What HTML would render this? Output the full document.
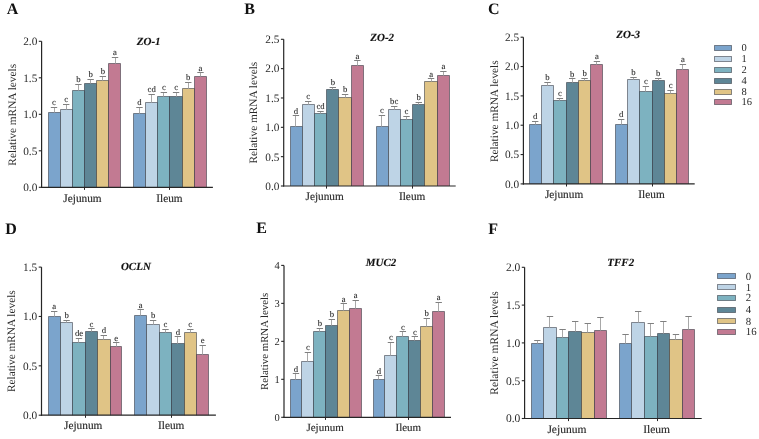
<!DOCTYPE html>
<html><head><meta charset="utf-8"><title>Relative mRNA levels</title>
<style>
html,body{margin:0;padding:0;background:#fff;}
body{width:759px;height:439px;overflow:hidden;}
svg{display:block;} svg text.t{stroke:#2a2a2a;stroke-width:0.15px;} svg text.t2{stroke:#333;stroke-width:0.1px;} svg{font-family:"Liberation Serif", serif;text-rendering:geometricPrecision;will-change:transform;}
</style></head><body>
<svg width="759" height="439" viewBox="0 0 759 439">
<rect x="0" y="0" width="759" height="439" fill="#fff"/>
<text x="6.7" y="13.5" font-size="16" font-weight="bold" fill="#111">A</text>
<text x="136.8" y="44.8" font-size="11" font-weight="bold" font-style="italic" fill="#111" class="t">ZO-1</text>
<rect x="48.5" y="112.5" width="12" height="74.8" fill="#7ba4cc"/>
<path d="M48.5 187.3V112.5H60.5V187.3" fill="none" stroke="#262a33" stroke-opacity="0.52" stroke-width="1.0"/>
<line x1="54.5" y1="107.5" x2="54.5" y2="112.5" stroke="#a8a8a8" stroke-width="1"/>
<line x1="50.8" y1="107.5" x2="57.2" y2="107.5" stroke="#808080" stroke-width="1"/>
<text x="54" y="105" font-size="8.7" text-anchor="middle" fill="#222" class="t2">c</text>
<rect x="60.5" y="109.5" width="12" height="77.8" fill="#bed4e6"/>
<path d="M60.5 187.3V109.5H72.5V187.3" fill="none" stroke="#262a33" stroke-opacity="0.52" stroke-width="1.0"/>
<line x1="66.5" y1="104.5" x2="66.5" y2="109.5" stroke="#a8a8a8" stroke-width="1"/>
<line x1="63.01" y1="104.5" x2="69.41" y2="104.5" stroke="#808080" stroke-width="1"/>
<text x="66.21" y="102.2" font-size="8.7" text-anchor="middle" fill="#222" class="t2">c</text>
<rect x="72.5" y="90.5" width="12" height="96.8" fill="#7db2c0"/>
<path d="M72.5 187.3V90.5H84.5V187.3" fill="none" stroke="#262a33" stroke-opacity="0.52" stroke-width="1.0"/>
<line x1="78.5" y1="84.5" x2="78.5" y2="90.5" stroke="#a8a8a8" stroke-width="1"/>
<line x1="75.22" y1="84.5" x2="81.62" y2="84.5" stroke="#808080" stroke-width="1"/>
<text x="78.42" y="82.2" font-size="8.7" text-anchor="middle" fill="#222" class="t2">b</text>
<rect x="84.5" y="83.5" width="12" height="103.8" fill="#5e8696"/>
<path d="M84.5 187.3V83.5H96.5V187.3" fill="none" stroke="#262a33" stroke-opacity="0.52" stroke-width="1.0"/>
<line x1="90.5" y1="79.5" x2="90.5" y2="83.5" stroke="#a8a8a8" stroke-width="1"/>
<line x1="87.43" y1="79.5" x2="93.83" y2="79.5" stroke="#808080" stroke-width="1"/>
<text x="90.63" y="77.4" font-size="8.7" text-anchor="middle" fill="#222" class="t2">b</text>
<rect x="96.5" y="80.5" width="12" height="106.8" fill="#e0c486"/>
<path d="M96.5 187.3V80.5H108.5V187.3" fill="none" stroke="#262a33" stroke-opacity="0.52" stroke-width="1.0"/>
<line x1="102.5" y1="76.5" x2="102.5" y2="80.5" stroke="#a8a8a8" stroke-width="1"/>
<line x1="99.63" y1="76.5" x2="106.03" y2="76.5" stroke="#808080" stroke-width="1"/>
<text x="102.83" y="74.4" font-size="8.7" text-anchor="middle" fill="#222" class="t2">b</text>
<rect x="108.5" y="63.5" width="12" height="123.8" fill="#c27a92"/>
<path d="M108.5 187.3V63.5H120.5V187.3" fill="none" stroke="#262a33" stroke-opacity="0.52" stroke-width="1.0"/>
<line x1="115.5" y1="57.5" x2="115.5" y2="63.5" stroke="#a8a8a8" stroke-width="1"/>
<line x1="111.84" y1="57.5" x2="118.24" y2="57.5" stroke="#808080" stroke-width="1"/>
<text x="115.04" y="55.2" font-size="8.7" text-anchor="middle" fill="#222" class="t2">a</text>
<line x1="84.5" y1="187.3" x2="84.5" y2="189.9" stroke="#262626" stroke-width="1"/>
<text x="82.52" y="201.5" font-size="11.3" text-anchor="middle" fill="#2a2a2a" class="t">Jejunum</text>
<rect x="133.5" y="113.5" width="12" height="73.8" fill="#7ba4cc"/>
<path d="M133.5 187.3V113.5H145.5V187.3" fill="none" stroke="#262a33" stroke-opacity="0.52" stroke-width="1.0"/>
<line x1="139.5" y1="107.5" x2="139.5" y2="113.5" stroke="#a8a8a8" stroke-width="1"/>
<line x1="136.26" y1="107.5" x2="142.66" y2="107.5" stroke="#808080" stroke-width="1"/>
<text x="139.46" y="105.4" font-size="8.7" text-anchor="middle" fill="#222" class="t2">d</text>
<rect x="145.5" y="102.5" width="12" height="84.8" fill="#bed4e6"/>
<path d="M145.5 187.3V102.5H157.5V187.3" fill="none" stroke="#262a33" stroke-opacity="0.52" stroke-width="1.0"/>
<line x1="151.5" y1="94.5" x2="151.5" y2="102.5" stroke="#a8a8a8" stroke-width="1"/>
<line x1="148.47" y1="94.5" x2="154.87" y2="94.5" stroke="#808080" stroke-width="1"/>
<text x="151.67" y="92" font-size="8.7" text-anchor="middle" fill="#222" class="t2">cd</text>
<rect x="157.5" y="96.5" width="12" height="90.8" fill="#7db2c0"/>
<path d="M157.5 187.3V96.5H169.5V187.3" fill="none" stroke="#262a33" stroke-opacity="0.52" stroke-width="1.0"/>
<line x1="163.5" y1="92.5" x2="163.5" y2="96.5" stroke="#a8a8a8" stroke-width="1"/>
<line x1="160.67" y1="92.5" x2="167.07" y2="92.5" stroke="#808080" stroke-width="1"/>
<text x="163.87" y="90" font-size="8.7" text-anchor="middle" fill="#222" class="t2">c</text>
<rect x="169.5" y="96.5" width="13" height="90.8" fill="#5e8696"/>
<path d="M169.5 187.3V96.5H182.5V187.3" fill="none" stroke="#262a33" stroke-opacity="0.52" stroke-width="1.0"/>
<line x1="176.5" y1="92.5" x2="176.5" y2="96.5" stroke="#a8a8a8" stroke-width="1"/>
<line x1="172.88" y1="92.5" x2="179.28" y2="92.5" stroke="#808080" stroke-width="1"/>
<text x="176.08" y="90" font-size="8.7" text-anchor="middle" fill="#222" class="t2">c</text>
<rect x="182.5" y="88.5" width="12" height="98.8" fill="#e0c486"/>
<path d="M182.5 187.3V88.5H194.5V187.3" fill="none" stroke="#262a33" stroke-opacity="0.52" stroke-width="1.0"/>
<line x1="188.5" y1="82.5" x2="188.5" y2="88.5" stroke="#a8a8a8" stroke-width="1"/>
<line x1="185.09" y1="82.5" x2="191.49" y2="82.5" stroke="#808080" stroke-width="1"/>
<text x="188.29" y="80.2" font-size="8.7" text-anchor="middle" fill="#222" class="t2">b</text>
<rect x="194.5" y="76.5" width="12" height="110.8" fill="#c27a92"/>
<path d="M194.5 187.3V76.5H206.5V187.3" fill="none" stroke="#262a33" stroke-opacity="0.52" stroke-width="1.0"/>
<line x1="200.5" y1="72.5" x2="200.5" y2="76.5" stroke="#a8a8a8" stroke-width="1"/>
<line x1="197.3" y1="72.5" x2="203.7" y2="72.5" stroke="#808080" stroke-width="1"/>
<text x="200.5" y="70.5" font-size="8.7" text-anchor="middle" fill="#222" class="t2">a</text>
<line x1="169.5" y1="187.3" x2="169.5" y2="189.9" stroke="#262626" stroke-width="1"/>
<text x="169.48" y="201.5" font-size="11.3" text-anchor="middle" fill="#2a2a2a" class="t">Ileum</text>
<line x1="41.6" y1="41.3" x2="41.6" y2="187.9" stroke="#262626" stroke-width="1.2"/>
<line x1="41" y1="187.3" x2="212.9" y2="187.3" stroke="#262626" stroke-width="1.2"/>
<line x1="38.8" y1="187.3" x2="41.6" y2="187.3" stroke="#262626" stroke-width="1.1"/>
<text x="37.3" y="191.14" font-size="11.3" text-anchor="end" fill="#2a2a2a">0.0</text>
<line x1="38.8" y1="150.8" x2="41.6" y2="150.8" stroke="#262626" stroke-width="1.1"/>
<text x="37.3" y="154.64" font-size="11.3" text-anchor="end" fill="#2a2a2a">0.5</text>
<line x1="38.8" y1="114.3" x2="41.6" y2="114.3" stroke="#262626" stroke-width="1.1"/>
<text x="37.3" y="118.14" font-size="11.3" text-anchor="end" fill="#2a2a2a">1.0</text>
<line x1="38.8" y1="77.8" x2="41.6" y2="77.8" stroke="#262626" stroke-width="1.1"/>
<text x="37.3" y="81.64" font-size="11.3" text-anchor="end" fill="#2a2a2a">1.5</text>
<line x1="38.8" y1="41.3" x2="41.6" y2="41.3" stroke="#262626" stroke-width="1.1"/>
<text x="37.3" y="45.14" font-size="11.3" text-anchor="end" fill="#2a2a2a">2.0</text>
<text transform="translate(15.7 114.8) rotate(-90)" font-size="11.3" text-anchor="middle" fill="#2a2a2a">Relative mRNA levels</text>
<text x="244.3" y="13.5" font-size="16" font-weight="bold" fill="#111">B</text>
<text x="370.3" y="41.4" font-size="11" font-weight="bold" font-style="italic" fill="#111" class="t">ZO-2</text>
<rect x="290.5" y="126.5" width="12" height="59.5" fill="#7ba4cc"/>
<path d="M290.5 186V126.5H302.5V186" fill="none" stroke="#262a33" stroke-opacity="0.52" stroke-width="1.0"/>
<line x1="295.5" y1="115.5" x2="295.5" y2="126.5" stroke="#a8a8a8" stroke-width="1"/>
<line x1="292.74" y1="115.5" x2="299.14" y2="115.5" stroke="#808080" stroke-width="1"/>
<text x="295.94" y="113.7" font-size="8.7" text-anchor="middle" fill="#222" class="t2">d</text>
<rect x="302.5" y="104.5" width="12" height="81.5" fill="#bed4e6"/>
<path d="M302.5 186V104.5H314.5V186" fill="none" stroke="#262a33" stroke-opacity="0.52" stroke-width="1.0"/>
<line x1="308.5" y1="101.5" x2="308.5" y2="104.5" stroke="#a8a8a8" stroke-width="1"/>
<line x1="305.03" y1="101.5" x2="311.43" y2="101.5" stroke="#808080" stroke-width="1"/>
<text x="308.23" y="99" font-size="8.7" text-anchor="middle" fill="#222" class="t2">c</text>
<rect x="314.5" y="113.5" width="12" height="72.5" fill="#7db2c0"/>
<path d="M314.5 186V113.5H326.5V186" fill="none" stroke="#262a33" stroke-opacity="0.52" stroke-width="1.0"/>
<line x1="320.5" y1="111.5" x2="320.5" y2="113.5" stroke="#a8a8a8" stroke-width="1"/>
<line x1="317.31" y1="111.5" x2="323.71" y2="111.5" stroke="#808080" stroke-width="1"/>
<text x="320.51" y="109.2" font-size="8.7" text-anchor="middle" fill="#222" class="t2">cd</text>
<rect x="326.5" y="89.5" width="12" height="96.5" fill="#5e8696"/>
<path d="M326.5 186V89.5H338.5V186" fill="none" stroke="#262a33" stroke-opacity="0.52" stroke-width="1.0"/>
<line x1="332.5" y1="87.5" x2="332.5" y2="89.5" stroke="#a8a8a8" stroke-width="1"/>
<line x1="329.6" y1="87.5" x2="336" y2="87.5" stroke="#808080" stroke-width="1"/>
<text x="332.8" y="85" font-size="8.7" text-anchor="middle" fill="#222" class="t2">b</text>
<rect x="338.5" y="97.5" width="13" height="88.5" fill="#e0c486"/>
<path d="M338.5 186V97.5H351.5V186" fill="none" stroke="#262a33" stroke-opacity="0.52" stroke-width="1.0"/>
<line x1="345.5" y1="94.5" x2="345.5" y2="97.5" stroke="#a8a8a8" stroke-width="1"/>
<line x1="341.88" y1="94.5" x2="348.28" y2="94.5" stroke="#808080" stroke-width="1"/>
<text x="345.08" y="92" font-size="8.7" text-anchor="middle" fill="#222" class="t2">b</text>
<rect x="351.5" y="65.5" width="12" height="120.5" fill="#c27a92"/>
<path d="M351.5 186V65.5H363.5V186" fill="none" stroke="#262a33" stroke-opacity="0.52" stroke-width="1.0"/>
<line x1="357.5" y1="60.5" x2="357.5" y2="65.5" stroke="#a8a8a8" stroke-width="1"/>
<line x1="354.17" y1="60.5" x2="360.57" y2="60.5" stroke="#808080" stroke-width="1"/>
<text x="357.37" y="58.8" font-size="8.7" text-anchor="middle" fill="#222" class="t2">a</text>
<line x1="326.5" y1="186" x2="326.5" y2="188.6" stroke="#262626" stroke-width="1"/>
<text x="324.65" y="200.2" font-size="11.3" text-anchor="middle" fill="#2a2a2a" class="t">Jejunum</text>
<rect x="376.5" y="126.5" width="12" height="59.5" fill="#7ba4cc"/>
<path d="M376.5 186V126.5H388.5V186" fill="none" stroke="#262a33" stroke-opacity="0.52" stroke-width="1.0"/>
<line x1="381.5" y1="115.5" x2="381.5" y2="126.5" stroke="#a8a8a8" stroke-width="1"/>
<line x1="378.73" y1="115.5" x2="385.13" y2="115.5" stroke="#808080" stroke-width="1"/>
<text x="381.93" y="113.3" font-size="8.7" text-anchor="middle" fill="#222" class="t2">c</text>
<rect x="388.5" y="109.5" width="12" height="76.5" fill="#bed4e6"/>
<path d="M388.5 186V109.5H400.5V186" fill="none" stroke="#262a33" stroke-opacity="0.52" stroke-width="1.0"/>
<line x1="394.5" y1="106.5" x2="394.5" y2="109.5" stroke="#a8a8a8" stroke-width="1"/>
<line x1="391.02" y1="106.5" x2="397.42" y2="106.5" stroke="#808080" stroke-width="1"/>
<text x="394.22" y="104.2" font-size="8.7" text-anchor="middle" fill="#222" class="t2">bc</text>
<rect x="400.5" y="119.5" width="12" height="66.5" fill="#7db2c0"/>
<path d="M400.5 186V119.5H412.5V186" fill="none" stroke="#262a33" stroke-opacity="0.52" stroke-width="1.0"/>
<line x1="406.5" y1="116.5" x2="406.5" y2="119.5" stroke="#a8a8a8" stroke-width="1"/>
<line x1="403.3" y1="116.5" x2="409.7" y2="116.5" stroke="#808080" stroke-width="1"/>
<text x="406.5" y="114" font-size="8.7" text-anchor="middle" fill="#222" class="t2">c</text>
<rect x="412.5" y="104.5" width="12" height="81.5" fill="#5e8696"/>
<path d="M412.5 186V104.5H424.5V186" fill="none" stroke="#262a33" stroke-opacity="0.52" stroke-width="1.0"/>
<line x1="418.5" y1="102.5" x2="418.5" y2="104.5" stroke="#a8a8a8" stroke-width="1"/>
<line x1="415.59" y1="102.5" x2="421.99" y2="102.5" stroke="#808080" stroke-width="1"/>
<text x="418.79" y="99.9" font-size="8.7" text-anchor="middle" fill="#222" class="t2">b</text>
<rect x="424.5" y="81.5" width="13" height="104.5" fill="#e0c486"/>
<path d="M424.5 186V81.5H437.5V186" fill="none" stroke="#262a33" stroke-opacity="0.52" stroke-width="1.0"/>
<line x1="431.5" y1="78.5" x2="431.5" y2="81.5" stroke="#a8a8a8" stroke-width="1"/>
<line x1="427.87" y1="78.5" x2="434.27" y2="78.5" stroke="#808080" stroke-width="1"/>
<text x="431.07" y="76.9" font-size="8.7" text-anchor="middle" fill="#222" class="t2">a</text>
<rect x="437.5" y="75.5" width="12" height="110.5" fill="#c27a92"/>
<path d="M437.5 186V75.5H449.5V186" fill="none" stroke="#262a33" stroke-opacity="0.52" stroke-width="1.0"/>
<line x1="443.5" y1="71.5" x2="443.5" y2="75.5" stroke="#a8a8a8" stroke-width="1"/>
<line x1="440.16" y1="71.5" x2="446.56" y2="71.5" stroke="#808080" stroke-width="1"/>
<text x="443.36" y="69.4" font-size="8.7" text-anchor="middle" fill="#222" class="t2">a</text>
<line x1="412.5" y1="186" x2="412.5" y2="188.6" stroke="#262626" stroke-width="1"/>
<text x="412.15" y="200.2" font-size="11.3" text-anchor="middle" fill="#2a2a2a" class="t">Ileum</text>
<line x1="283.7" y1="39.3" x2="283.7" y2="186.6" stroke="#262626" stroke-width="1.2"/>
<line x1="283.1" y1="186" x2="455.7" y2="186" stroke="#262626" stroke-width="1.2"/>
<line x1="280.9" y1="186" x2="283.7" y2="186" stroke="#262626" stroke-width="1.1"/>
<text x="279.4" y="189.84" font-size="11.3" text-anchor="end" fill="#2a2a2a">0.0</text>
<line x1="280.9" y1="156.66" x2="283.7" y2="156.66" stroke="#262626" stroke-width="1.1"/>
<text x="279.4" y="160.5" font-size="11.3" text-anchor="end" fill="#2a2a2a">0.5</text>
<line x1="280.9" y1="127.32" x2="283.7" y2="127.32" stroke="#262626" stroke-width="1.1"/>
<text x="279.4" y="131.16" font-size="11.3" text-anchor="end" fill="#2a2a2a">1.0</text>
<line x1="280.9" y1="97.98" x2="283.7" y2="97.98" stroke="#262626" stroke-width="1.1"/>
<text x="279.4" y="101.82" font-size="11.3" text-anchor="end" fill="#2a2a2a">1.5</text>
<line x1="280.9" y1="68.64" x2="283.7" y2="68.64" stroke="#262626" stroke-width="1.1"/>
<text x="279.4" y="72.48" font-size="11.3" text-anchor="end" fill="#2a2a2a">2.0</text>
<line x1="280.9" y1="39.3" x2="283.7" y2="39.3" stroke="#262626" stroke-width="1.1"/>
<text x="279.4" y="43.14" font-size="11.3" text-anchor="end" fill="#2a2a2a">2.5</text>
<text transform="translate(257.3 112.65) rotate(-90)" font-size="11.3" text-anchor="middle" fill="#2a2a2a">Relative mRNA levels</text>
<text x="488" y="13.5" font-size="16" font-weight="bold" fill="#111">C</text>
<text x="616.3" y="38.4" font-size="11" font-weight="bold" font-style="italic" fill="#111" class="t">ZO-3</text>
<rect x="529.5" y="124.5" width="12" height="59.4" fill="#7ba4cc"/>
<path d="M529.5 183.9V124.5H541.5V183.9" fill="none" stroke="#262a33" stroke-opacity="0.52" stroke-width="1.0"/>
<line x1="535.5" y1="121.5" x2="535.5" y2="124.5" stroke="#a8a8a8" stroke-width="1"/>
<line x1="531.97" y1="121.5" x2="538.38" y2="121.5" stroke="#808080" stroke-width="1"/>
<text x="535.17" y="119.1" font-size="8.7" text-anchor="middle" fill="#222" class="t2">d</text>
<rect x="541.5" y="85.5" width="12" height="98.4" fill="#bed4e6"/>
<path d="M541.5 183.9V85.5H553.5V183.9" fill="none" stroke="#262a33" stroke-opacity="0.52" stroke-width="1.0"/>
<line x1="547.5" y1="82.5" x2="547.5" y2="85.5" stroke="#a8a8a8" stroke-width="1"/>
<line x1="544.32" y1="82.5" x2="550.73" y2="82.5" stroke="#808080" stroke-width="1"/>
<text x="547.52" y="80.4" font-size="8.7" text-anchor="middle" fill="#222" class="t2">b</text>
<rect x="553.5" y="100.5" width="13" height="83.4" fill="#7db2c0"/>
<path d="M553.5 183.9V100.5H566.5V183.9" fill="none" stroke="#262a33" stroke-opacity="0.52" stroke-width="1.0"/>
<line x1="559.5" y1="98.5" x2="559.5" y2="100.5" stroke="#a8a8a8" stroke-width="1"/>
<line x1="556.67" y1="98.5" x2="563.08" y2="98.5" stroke="#808080" stroke-width="1"/>
<text x="559.88" y="96.3" font-size="8.7" text-anchor="middle" fill="#222" class="t2">c</text>
<rect x="566.5" y="82.5" width="12" height="101.4" fill="#5e8696"/>
<path d="M566.5 183.9V82.5H578.5V183.9" fill="none" stroke="#262a33" stroke-opacity="0.52" stroke-width="1.0"/>
<line x1="572.5" y1="78.5" x2="572.5" y2="82.5" stroke="#a8a8a8" stroke-width="1"/>
<line x1="569.02" y1="78.5" x2="575.42" y2="78.5" stroke="#808080" stroke-width="1"/>
<text x="572.22" y="76.7" font-size="8.7" text-anchor="middle" fill="#222" class="t2">b</text>
<rect x="578.5" y="80.5" width="12" height="103.4" fill="#e0c486"/>
<path d="M578.5 183.9V80.5H590.5V183.9" fill="none" stroke="#262a33" stroke-opacity="0.52" stroke-width="1.0"/>
<line x1="584.5" y1="78.5" x2="584.5" y2="80.5" stroke="#a8a8a8" stroke-width="1"/>
<line x1="581.37" y1="78.5" x2="587.77" y2="78.5" stroke="#808080" stroke-width="1"/>
<text x="584.57" y="76.2" font-size="8.7" text-anchor="middle" fill="#222" class="t2">b</text>
<rect x="590.5" y="64.5" width="12" height="119.4" fill="#c27a92"/>
<path d="M590.5 183.9V64.5H602.5V183.9" fill="none" stroke="#262a33" stroke-opacity="0.52" stroke-width="1.0"/>
<line x1="596.5" y1="61.5" x2="596.5" y2="64.5" stroke="#a8a8a8" stroke-width="1"/>
<line x1="593.72" y1="61.5" x2="600.12" y2="61.5" stroke="#808080" stroke-width="1"/>
<text x="596.92" y="59.2" font-size="8.7" text-anchor="middle" fill="#222" class="t2">a</text>
<line x1="566.5" y1="183.9" x2="566.5" y2="186.5" stroke="#262626" stroke-width="1"/>
<text x="564.05" y="198.1" font-size="11.3" text-anchor="middle" fill="#2a2a2a" class="t">Jejunum</text>
<rect x="615.5" y="124.5" width="12" height="59.4" fill="#7ba4cc"/>
<path d="M615.5 183.9V124.5H627.5V183.9" fill="none" stroke="#262a33" stroke-opacity="0.52" stroke-width="1.0"/>
<line x1="621.5" y1="119.5" x2="621.5" y2="124.5" stroke="#a8a8a8" stroke-width="1"/>
<line x1="617.97" y1="119.5" x2="624.38" y2="119.5" stroke="#808080" stroke-width="1"/>
<text x="621.17" y="117.1" font-size="8.7" text-anchor="middle" fill="#222" class="t2">d</text>
<rect x="627.5" y="79.5" width="12" height="104.4" fill="#bed4e6"/>
<path d="M627.5 183.9V79.5H639.5V183.9" fill="none" stroke="#262a33" stroke-opacity="0.52" stroke-width="1.0"/>
<line x1="633.5" y1="77.5" x2="633.5" y2="79.5" stroke="#a8a8a8" stroke-width="1"/>
<line x1="630.32" y1="77.5" x2="636.73" y2="77.5" stroke="#808080" stroke-width="1"/>
<text x="633.52" y="75.2" font-size="8.7" text-anchor="middle" fill="#222" class="t2">b</text>
<rect x="639.5" y="91.5" width="13" height="92.4" fill="#7db2c0"/>
<path d="M639.5 183.9V91.5H652.5V183.9" fill="none" stroke="#262a33" stroke-opacity="0.52" stroke-width="1.0"/>
<line x1="645.5" y1="86.5" x2="645.5" y2="91.5" stroke="#a8a8a8" stroke-width="1"/>
<line x1="642.67" y1="86.5" x2="649.08" y2="86.5" stroke="#808080" stroke-width="1"/>
<text x="645.88" y="84.3" font-size="8.7" text-anchor="middle" fill="#222" class="t2">c</text>
<rect x="652.5" y="80.5" width="12" height="103.4" fill="#5e8696"/>
<path d="M652.5 183.9V80.5H664.5V183.9" fill="none" stroke="#262a33" stroke-opacity="0.52" stroke-width="1.0"/>
<line x1="658.5" y1="78.5" x2="658.5" y2="80.5" stroke="#a8a8a8" stroke-width="1"/>
<line x1="655.02" y1="78.5" x2="661.42" y2="78.5" stroke="#808080" stroke-width="1"/>
<text x="658.22" y="76.1" font-size="8.7" text-anchor="middle" fill="#222" class="t2">b</text>
<rect x="664.5" y="93.5" width="12" height="90.4" fill="#e0c486"/>
<path d="M664.5 183.9V93.5H676.5V183.9" fill="none" stroke="#262a33" stroke-opacity="0.52" stroke-width="1.0"/>
<line x1="670.5" y1="90.5" x2="670.5" y2="93.5" stroke="#a8a8a8" stroke-width="1"/>
<line x1="667.37" y1="90.5" x2="673.77" y2="90.5" stroke="#808080" stroke-width="1"/>
<text x="670.57" y="88.3" font-size="8.7" text-anchor="middle" fill="#222" class="t2">c</text>
<rect x="676.5" y="69.5" width="12" height="114.4" fill="#c27a92"/>
<path d="M676.5 183.9V69.5H688.5V183.9" fill="none" stroke="#262a33" stroke-opacity="0.52" stroke-width="1.0"/>
<line x1="682.5" y1="64.5" x2="682.5" y2="69.5" stroke="#a8a8a8" stroke-width="1"/>
<line x1="679.72" y1="64.5" x2="686.12" y2="64.5" stroke="#808080" stroke-width="1"/>
<text x="682.92" y="61.9" font-size="8.7" text-anchor="middle" fill="#222" class="t2">a</text>
<line x1="652.5" y1="183.9" x2="652.5" y2="186.5" stroke="#262626" stroke-width="1"/>
<text x="651.55" y="198.1" font-size="11.3" text-anchor="middle" fill="#2a2a2a" class="t">Ileum</text>
<line x1="523.4" y1="37.2" x2="523.4" y2="184.5" stroke="#262626" stroke-width="1.2"/>
<line x1="522.8" y1="183.9" x2="694.7" y2="183.9" stroke="#262626" stroke-width="1.2"/>
<line x1="520.6" y1="183.9" x2="523.4" y2="183.9" stroke="#262626" stroke-width="1.1"/>
<text x="519.1" y="187.74" font-size="11.3" text-anchor="end" fill="#2a2a2a">0.0</text>
<line x1="520.6" y1="154.56" x2="523.4" y2="154.56" stroke="#262626" stroke-width="1.1"/>
<text x="519.1" y="158.4" font-size="11.3" text-anchor="end" fill="#2a2a2a">0.5</text>
<line x1="520.6" y1="125.22" x2="523.4" y2="125.22" stroke="#262626" stroke-width="1.1"/>
<text x="519.1" y="129.06" font-size="11.3" text-anchor="end" fill="#2a2a2a">1.0</text>
<line x1="520.6" y1="95.88" x2="523.4" y2="95.88" stroke="#262626" stroke-width="1.1"/>
<text x="519.1" y="99.72" font-size="11.3" text-anchor="end" fill="#2a2a2a">1.5</text>
<line x1="520.6" y1="66.54" x2="523.4" y2="66.54" stroke="#262626" stroke-width="1.1"/>
<text x="519.1" y="70.38" font-size="11.3" text-anchor="end" fill="#2a2a2a">2.0</text>
<line x1="520.6" y1="37.2" x2="523.4" y2="37.2" stroke="#262626" stroke-width="1.1"/>
<text x="519.1" y="41.04" font-size="11.3" text-anchor="end" fill="#2a2a2a">2.5</text>
<text transform="translate(497.6 111.25) rotate(-90)" font-size="11.3" text-anchor="middle" fill="#2a2a2a">Relative mRNA levels</text>
<rect x="714.5" y="45.5" width="17" height="5" fill="#7ba4cc" stroke="#262a33" stroke-opacity="0.52" stroke-width="1"/>
<text x="741.4" y="51.2" font-size="10.5" fill="#2a2a2a">0</text>
<rect x="714.5" y="56.5" width="17" height="5" fill="#bed4e6" stroke="#262a33" stroke-opacity="0.52" stroke-width="1"/>
<text x="741.4" y="61.9" font-size="10.5" fill="#2a2a2a">1</text>
<rect x="714.5" y="67.5" width="17" height="5" fill="#7db2c0" stroke="#262a33" stroke-opacity="0.52" stroke-width="1"/>
<text x="741.4" y="72.7" font-size="10.5" fill="#2a2a2a">2</text>
<rect x="714.5" y="78.5" width="17" height="5" fill="#5e8696" stroke="#262a33" stroke-opacity="0.52" stroke-width="1"/>
<text x="741.4" y="83.7" font-size="10.5" fill="#2a2a2a">4</text>
<rect x="714.5" y="89.5" width="17" height="5" fill="#e0c486" stroke="#262a33" stroke-opacity="0.52" stroke-width="1"/>
<text x="741.4" y="95.2" font-size="10.5" fill="#2a2a2a">8</text>
<rect x="714.5" y="99.5" width="17" height="5" fill="#c27a92" stroke="#262a33" stroke-opacity="0.52" stroke-width="1"/>
<text x="741.4" y="105.2" font-size="10.5" fill="#2a2a2a">16</text>
<text x="5.2" y="233.6" font-size="16" font-weight="bold" fill="#111">D</text>
<text x="120.9" y="269.8" font-size="11" font-weight="bold" font-style="italic" fill="#111" class="t">OCLN</text>
<rect x="48.5" y="316.5" width="12" height="98.7" fill="#7ba4cc"/>
<path d="M48.5 415.2V316.5H60.5V415.2" fill="none" stroke="#262a33" stroke-opacity="0.52" stroke-width="1.0"/>
<line x1="54.5" y1="311.5" x2="54.5" y2="316.5" stroke="#a8a8a8" stroke-width="1"/>
<line x1="51" y1="311.5" x2="57.4" y2="311.5" stroke="#808080" stroke-width="1"/>
<text x="54.2" y="309.4" font-size="8.7" text-anchor="middle" fill="#222" class="t2">a</text>
<rect x="60.5" y="322.5" width="12" height="92.7" fill="#bed4e6"/>
<path d="M60.5 415.2V322.5H72.5V415.2" fill="none" stroke="#262a33" stroke-opacity="0.52" stroke-width="1.0"/>
<line x1="66.5" y1="320.5" x2="66.5" y2="322.5" stroke="#a8a8a8" stroke-width="1"/>
<line x1="63.4" y1="320.5" x2="69.8" y2="320.5" stroke="#808080" stroke-width="1"/>
<text x="66.6" y="318.3" font-size="8.7" text-anchor="middle" fill="#222" class="t2">b</text>
<rect x="72.5" y="342.5" width="13" height="72.7" fill="#7db2c0"/>
<path d="M72.5 415.2V342.5H85.5V415.2" fill="none" stroke="#262a33" stroke-opacity="0.52" stroke-width="1.0"/>
<line x1="78.5" y1="338.5" x2="78.5" y2="342.5" stroke="#a8a8a8" stroke-width="1"/>
<line x1="75.8" y1="338.5" x2="82.2" y2="338.5" stroke="#808080" stroke-width="1"/>
<text x="79" y="336.2" font-size="8.7" text-anchor="middle" fill="#222" class="t2">de</text>
<rect x="85.5" y="331.5" width="12" height="83.7" fill="#5e8696"/>
<path d="M85.5 415.2V331.5H97.5V415.2" fill="none" stroke="#262a33" stroke-opacity="0.52" stroke-width="1.0"/>
<line x1="91.5" y1="328.5" x2="91.5" y2="331.5" stroke="#a8a8a8" stroke-width="1"/>
<line x1="88.2" y1="328.5" x2="94.6" y2="328.5" stroke="#808080" stroke-width="1"/>
<text x="91.4" y="326.9" font-size="8.7" text-anchor="middle" fill="#222" class="t2">c</text>
<rect x="97.5" y="339.5" width="13" height="75.7" fill="#e0c486"/>
<path d="M97.5 415.2V339.5H110.5V415.2" fill="none" stroke="#262a33" stroke-opacity="0.52" stroke-width="1.0"/>
<line x1="103.5" y1="335.5" x2="103.5" y2="339.5" stroke="#a8a8a8" stroke-width="1"/>
<line x1="100.6" y1="335.5" x2="107" y2="335.5" stroke="#808080" stroke-width="1"/>
<text x="103.8" y="333.3" font-size="8.7" text-anchor="middle" fill="#222" class="t2">d</text>
<rect x="110.5" y="346.5" width="11" height="68.7" fill="#c27a92"/>
<path d="M110.5 415.2V346.5H121.5V415.2" fill="none" stroke="#262a33" stroke-opacity="0.52" stroke-width="1.0"/>
<line x1="116.5" y1="342.5" x2="116.5" y2="346.5" stroke="#a8a8a8" stroke-width="1"/>
<line x1="113" y1="342.5" x2="119.4" y2="342.5" stroke="#808080" stroke-width="1"/>
<text x="116.2" y="340.7" font-size="8.7" text-anchor="middle" fill="#222" class="t2">e</text>
<line x1="85.5" y1="415.2" x2="85.5" y2="417.8" stroke="#262626" stroke-width="1"/>
<text x="83.2" y="429.4" font-size="11.3" text-anchor="middle" fill="#2a2a2a" class="t">Jejunum</text>
<rect x="134.5" y="315.5" width="12" height="99.7" fill="#7ba4cc"/>
<path d="M134.5 415.2V315.5H146.5V415.2" fill="none" stroke="#262a33" stroke-opacity="0.52" stroke-width="1.0"/>
<line x1="140.5" y1="309.5" x2="140.5" y2="315.5" stroke="#a8a8a8" stroke-width="1"/>
<line x1="137.5" y1="309.5" x2="143.9" y2="309.5" stroke="#808080" stroke-width="1"/>
<text x="140.7" y="307.5" font-size="8.7" text-anchor="middle" fill="#222" class="t2">a</text>
<rect x="146.5" y="324.5" width="13" height="90.7" fill="#bed4e6"/>
<path d="M146.5 415.2V324.5H159.5V415.2" fill="none" stroke="#262a33" stroke-opacity="0.52" stroke-width="1.0"/>
<line x1="153.5" y1="320.5" x2="153.5" y2="324.5" stroke="#a8a8a8" stroke-width="1"/>
<line x1="149.9" y1="320.5" x2="156.3" y2="320.5" stroke="#808080" stroke-width="1"/>
<text x="153.1" y="318.3" font-size="8.7" text-anchor="middle" fill="#222" class="t2">b</text>
<rect x="159.5" y="332.5" width="12" height="82.7" fill="#7db2c0"/>
<path d="M159.5 415.2V332.5H171.5V415.2" fill="none" stroke="#262a33" stroke-opacity="0.52" stroke-width="1.0"/>
<line x1="165.5" y1="329.5" x2="165.5" y2="332.5" stroke="#a8a8a8" stroke-width="1"/>
<line x1="162.3" y1="329.5" x2="168.7" y2="329.5" stroke="#808080" stroke-width="1"/>
<text x="165.5" y="327.4" font-size="8.7" text-anchor="middle" fill="#222" class="t2">c</text>
<rect x="171.5" y="343.5" width="13" height="71.7" fill="#5e8696"/>
<path d="M171.5 415.2V343.5H184.5V415.2" fill="none" stroke="#262a33" stroke-opacity="0.52" stroke-width="1.0"/>
<line x1="177.5" y1="336.5" x2="177.5" y2="343.5" stroke="#a8a8a8" stroke-width="1"/>
<line x1="174.7" y1="336.5" x2="181.1" y2="336.5" stroke="#808080" stroke-width="1"/>
<text x="177.9" y="334.6" font-size="8.7" text-anchor="middle" fill="#222" class="t2">d</text>
<rect x="184.5" y="332.5" width="12" height="82.7" fill="#e0c486"/>
<path d="M184.5 415.2V332.5H196.5V415.2" fill="none" stroke="#262a33" stroke-opacity="0.52" stroke-width="1.0"/>
<line x1="190.5" y1="329.5" x2="190.5" y2="332.5" stroke="#a8a8a8" stroke-width="1"/>
<line x1="187.1" y1="329.5" x2="193.5" y2="329.5" stroke="#808080" stroke-width="1"/>
<text x="190.3" y="327.4" font-size="8.7" text-anchor="middle" fill="#222" class="t2">c</text>
<rect x="196.5" y="354.5" width="12" height="60.7" fill="#c27a92"/>
<path d="M196.5 415.2V354.5H208.5V415.2" fill="none" stroke="#262a33" stroke-opacity="0.52" stroke-width="1.0"/>
<line x1="202.5" y1="345.5" x2="202.5" y2="354.5" stroke="#a8a8a8" stroke-width="1"/>
<line x1="199.5" y1="345.5" x2="205.9" y2="345.5" stroke="#808080" stroke-width="1"/>
<text x="202.7" y="343.4" font-size="8.7" text-anchor="middle" fill="#222" class="t2">e</text>
<line x1="171.5" y1="415.2" x2="171.5" y2="417.8" stroke="#262626" stroke-width="1"/>
<text x="171.2" y="429.4" font-size="11.3" text-anchor="middle" fill="#2a2a2a" class="t">Ileum</text>
<line x1="41.5" y1="267.1" x2="41.5" y2="415.8" stroke="#262626" stroke-width="1.2"/>
<line x1="40.9" y1="415.2" x2="215.9" y2="415.2" stroke="#262626" stroke-width="1.2"/>
<line x1="38.7" y1="415.2" x2="41.5" y2="415.2" stroke="#262626" stroke-width="1.1"/>
<text x="37.2" y="419.04" font-size="11.3" text-anchor="end" fill="#2a2a2a">0.0</text>
<line x1="38.7" y1="365.83" x2="41.5" y2="365.83" stroke="#262626" stroke-width="1.1"/>
<text x="37.2" y="369.68" font-size="11.3" text-anchor="end" fill="#2a2a2a">0.5</text>
<line x1="38.7" y1="316.47" x2="41.5" y2="316.47" stroke="#262626" stroke-width="1.1"/>
<text x="37.2" y="320.31" font-size="11.3" text-anchor="end" fill="#2a2a2a">1.0</text>
<line x1="38.7" y1="267.1" x2="41.5" y2="267.1" stroke="#262626" stroke-width="1.1"/>
<text x="37.2" y="270.94" font-size="11.3" text-anchor="end" fill="#2a2a2a">1.5</text>
<text transform="translate(14.9 341.15) rotate(-90)" font-size="11.3" text-anchor="middle" fill="#2a2a2a">Relative mRNA levels</text>
<text x="256.3" y="233.3" font-size="16" font-weight="bold" fill="#111">E</text>
<text x="365.8" y="266" font-size="11" font-weight="bold" font-style="italic" fill="#111" class="t">MUC2</text>
<rect x="290.5" y="379.5" width="11" height="37.8" fill="#7ba4cc"/>
<path d="M290.5 417.3V379.5H301.5V417.3" fill="none" stroke="#262a33" stroke-opacity="0.52" stroke-width="1.0"/>
<line x1="295.5" y1="373.5" x2="295.5" y2="379.5" stroke="#a8a8a8" stroke-width="1"/>
<line x1="292.78" y1="373.5" x2="299.18" y2="373.5" stroke="#808080" stroke-width="1"/>
<text x="295.98" y="371.8" font-size="8.7" text-anchor="middle" fill="#222" class="t2">d</text>
<rect x="301.5" y="361.5" width="12" height="55.8" fill="#bed4e6"/>
<path d="M301.5 417.3V361.5H313.5V417.3" fill="none" stroke="#262a33" stroke-opacity="0.52" stroke-width="1.0"/>
<line x1="307.5" y1="352.5" x2="307.5" y2="361.5" stroke="#a8a8a8" stroke-width="1"/>
<line x1="304.73" y1="352.5" x2="311.12" y2="352.5" stroke="#808080" stroke-width="1"/>
<text x="307.93" y="349.9" font-size="8.7" text-anchor="middle" fill="#222" class="t2">c</text>
<rect x="313.5" y="331.5" width="12" height="85.8" fill="#7db2c0"/>
<path d="M313.5 417.3V331.5H325.5V417.3" fill="none" stroke="#262a33" stroke-opacity="0.52" stroke-width="1.0"/>
<line x1="319.5" y1="328.5" x2="319.5" y2="331.5" stroke="#a8a8a8" stroke-width="1"/>
<line x1="316.68" y1="328.5" x2="323.07" y2="328.5" stroke="#808080" stroke-width="1"/>
<text x="319.88" y="326.2" font-size="8.7" text-anchor="middle" fill="#222" class="t2">b</text>
<rect x="325.5" y="325.5" width="12" height="91.8" fill="#5e8696"/>
<path d="M325.5 417.3V325.5H337.5V417.3" fill="none" stroke="#262a33" stroke-opacity="0.52" stroke-width="1.0"/>
<line x1="331.5" y1="319.5" x2="331.5" y2="325.5" stroke="#a8a8a8" stroke-width="1"/>
<line x1="328.63" y1="319.5" x2="335.03" y2="319.5" stroke="#808080" stroke-width="1"/>
<text x="331.83" y="317.1" font-size="8.7" text-anchor="middle" fill="#222" class="t2">b</text>
<rect x="337.5" y="310.5" width="12" height="106.8" fill="#e0c486"/>
<path d="M337.5 417.3V310.5H349.5V417.3" fill="none" stroke="#262a33" stroke-opacity="0.52" stroke-width="1.0"/>
<line x1="343.5" y1="303.5" x2="343.5" y2="310.5" stroke="#a8a8a8" stroke-width="1"/>
<line x1="340.58" y1="303.5" x2="346.98" y2="303.5" stroke="#808080" stroke-width="1"/>
<text x="343.78" y="301.6" font-size="8.7" text-anchor="middle" fill="#222" class="t2">a</text>
<rect x="349.5" y="308.5" width="12" height="108.8" fill="#c27a92"/>
<path d="M349.5 417.3V308.5H361.5V417.3" fill="none" stroke="#262a33" stroke-opacity="0.52" stroke-width="1.0"/>
<line x1="355.5" y1="300.5" x2="355.5" y2="308.5" stroke="#a8a8a8" stroke-width="1"/>
<line x1="352.53" y1="300.5" x2="358.93" y2="300.5" stroke="#808080" stroke-width="1"/>
<text x="355.73" y="298.2" font-size="8.7" text-anchor="middle" fill="#222" class="t2">a</text>
<line x1="325.5" y1="417.3" x2="325.5" y2="419.9" stroke="#262626" stroke-width="1"/>
<text x="325.05" y="430.5" font-size="11.0" text-anchor="middle" fill="#2a2a2a" class="t">Jejunum</text>
<rect x="373.5" y="379.5" width="11" height="37.8" fill="#7ba4cc"/>
<path d="M373.5 417.3V379.5H384.5V417.3" fill="none" stroke="#262a33" stroke-opacity="0.52" stroke-width="1.0"/>
<line x1="378.5" y1="375.5" x2="378.5" y2="379.5" stroke="#a8a8a8" stroke-width="1"/>
<line x1="375.78" y1="375.5" x2="382.18" y2="375.5" stroke="#808080" stroke-width="1"/>
<text x="378.98" y="373.6" font-size="8.7" text-anchor="middle" fill="#222" class="t2">d</text>
<rect x="384.5" y="355.5" width="12" height="61.8" fill="#bed4e6"/>
<path d="M384.5 417.3V355.5H396.5V417.3" fill="none" stroke="#262a33" stroke-opacity="0.52" stroke-width="1.0"/>
<line x1="390.5" y1="342.5" x2="390.5" y2="355.5" stroke="#a8a8a8" stroke-width="1"/>
<line x1="387.73" y1="342.5" x2="394.12" y2="342.5" stroke="#808080" stroke-width="1"/>
<text x="390.93" y="340.3" font-size="8.7" text-anchor="middle" fill="#222" class="t2">c</text>
<rect x="396.5" y="336.5" width="12" height="80.8" fill="#7db2c0"/>
<path d="M396.5 417.3V336.5H408.5V417.3" fill="none" stroke="#262a33" stroke-opacity="0.52" stroke-width="1.0"/>
<line x1="402.5" y1="331.5" x2="402.5" y2="336.5" stroke="#a8a8a8" stroke-width="1"/>
<line x1="399.68" y1="331.5" x2="406.07" y2="331.5" stroke="#808080" stroke-width="1"/>
<text x="402.88" y="329.6" font-size="8.7" text-anchor="middle" fill="#222" class="t2">c</text>
<rect x="408.5" y="340.5" width="12" height="76.8" fill="#5e8696"/>
<path d="M408.5 417.3V340.5H420.5V417.3" fill="none" stroke="#262a33" stroke-opacity="0.52" stroke-width="1.0"/>
<line x1="414.5" y1="336.5" x2="414.5" y2="340.5" stroke="#a8a8a8" stroke-width="1"/>
<line x1="411.63" y1="336.5" x2="418.03" y2="336.5" stroke="#808080" stroke-width="1"/>
<text x="414.83" y="334.6" font-size="8.7" text-anchor="middle" fill="#222" class="t2">c</text>
<rect x="420.5" y="326.5" width="12" height="90.8" fill="#e0c486"/>
<path d="M420.5 417.3V326.5H432.5V417.3" fill="none" stroke="#262a33" stroke-opacity="0.52" stroke-width="1.0"/>
<line x1="426.5" y1="318.5" x2="426.5" y2="326.5" stroke="#a8a8a8" stroke-width="1"/>
<line x1="423.58" y1="318.5" x2="429.98" y2="318.5" stroke="#808080" stroke-width="1"/>
<text x="426.78" y="316.4" font-size="8.7" text-anchor="middle" fill="#222" class="t2">b</text>
<rect x="432.5" y="311.5" width="12" height="105.8" fill="#c27a92"/>
<path d="M432.5 417.3V311.5H444.5V417.3" fill="none" stroke="#262a33" stroke-opacity="0.52" stroke-width="1.0"/>
<line x1="438.5" y1="302.5" x2="438.5" y2="311.5" stroke="#a8a8a8" stroke-width="1"/>
<line x1="435.53" y1="302.5" x2="441.93" y2="302.5" stroke="#808080" stroke-width="1"/>
<text x="438.73" y="300.4" font-size="8.7" text-anchor="middle" fill="#222" class="t2">a</text>
<line x1="408.5" y1="417.3" x2="408.5" y2="419.9" stroke="#262626" stroke-width="1"/>
<text x="408.35" y="430.5" font-size="11.0" text-anchor="middle" fill="#2a2a2a" class="t">Ileum</text>
<line x1="284" y1="265.4" x2="284" y2="417.9" stroke="#262626" stroke-width="1.2"/>
<line x1="283.4" y1="417.3" x2="451" y2="417.3" stroke="#262626" stroke-width="1.2"/>
<line x1="281.2" y1="417.3" x2="284" y2="417.3" stroke="#262626" stroke-width="1.1"/>
<text x="279.7" y="420.87" font-size="10.5" text-anchor="end" fill="#2a2a2a">0</text>
<line x1="281.2" y1="379.32" x2="284" y2="379.32" stroke="#262626" stroke-width="1.1"/>
<text x="279.7" y="382.89" font-size="10.5" text-anchor="end" fill="#2a2a2a">1</text>
<line x1="281.2" y1="341.35" x2="284" y2="341.35" stroke="#262626" stroke-width="1.1"/>
<text x="279.7" y="344.92" font-size="10.5" text-anchor="end" fill="#2a2a2a">2</text>
<line x1="281.2" y1="303.38" x2="284" y2="303.38" stroke="#262626" stroke-width="1.1"/>
<text x="279.7" y="306.94" font-size="10.5" text-anchor="end" fill="#2a2a2a">3</text>
<line x1="281.2" y1="265.4" x2="284" y2="265.4" stroke="#262626" stroke-width="1.1"/>
<text x="279.7" y="268.97" font-size="10.5" text-anchor="end" fill="#2a2a2a">4</text>
<text transform="translate(268.3 341.35) rotate(-90)" font-size="10.8" text-anchor="middle" fill="#2a2a2a">Relative mRNA levels</text>
<text x="488.3" y="233.5" font-size="16" font-weight="bold" fill="#111">F</text>
<text x="607.3" y="265.7" font-size="11" font-weight="bold" font-style="italic" fill="#111" class="t">TFF2</text>
<rect x="531.5" y="343.5" width="12" height="75" fill="#7ba4cc"/>
<path d="M531.5 418.5V343.5H543.5V418.5" fill="none" stroke="#262a33" stroke-opacity="0.52" stroke-width="1.0"/>
<line x1="537.5" y1="340.5" x2="537.5" y2="343.5" stroke="#a8a8a8" stroke-width="1"/>
<line x1="534.2" y1="340.5" x2="540.6" y2="340.5" stroke="#808080" stroke-width="1"/>
<rect x="543.5" y="327.5" width="13" height="91" fill="#bed4e6"/>
<path d="M543.5 418.5V327.5H556.5V418.5" fill="none" stroke="#262a33" stroke-opacity="0.52" stroke-width="1.0"/>
<line x1="549.5" y1="316.5" x2="549.5" y2="327.5" stroke="#a8a8a8" stroke-width="1"/>
<line x1="546.79" y1="316.5" x2="553.19" y2="316.5" stroke="#808080" stroke-width="1"/>
<rect x="556.5" y="337.5" width="12" height="81" fill="#7db2c0"/>
<path d="M556.5 418.5V337.5H568.5V418.5" fill="none" stroke="#262a33" stroke-opacity="0.52" stroke-width="1.0"/>
<line x1="562.5" y1="329.5" x2="562.5" y2="337.5" stroke="#a8a8a8" stroke-width="1"/>
<line x1="559.39" y1="329.5" x2="565.79" y2="329.5" stroke="#808080" stroke-width="1"/>
<rect x="568.5" y="331.5" width="13" height="87" fill="#5e8696"/>
<path d="M568.5 418.5V331.5H581.5V418.5" fill="none" stroke="#262a33" stroke-opacity="0.52" stroke-width="1.0"/>
<line x1="575.5" y1="321.5" x2="575.5" y2="331.5" stroke="#a8a8a8" stroke-width="1"/>
<line x1="571.99" y1="321.5" x2="578.39" y2="321.5" stroke="#808080" stroke-width="1"/>
<rect x="581.5" y="332.5" width="13" height="86" fill="#e0c486"/>
<path d="M581.5 418.5V332.5H594.5V418.5" fill="none" stroke="#262a33" stroke-opacity="0.52" stroke-width="1.0"/>
<line x1="587.5" y1="323.5" x2="587.5" y2="332.5" stroke="#a8a8a8" stroke-width="1"/>
<line x1="584.58" y1="323.5" x2="590.98" y2="323.5" stroke="#808080" stroke-width="1"/>
<rect x="594.5" y="330.5" width="12" height="88" fill="#c27a92"/>
<path d="M594.5 418.5V330.5H606.5V418.5" fill="none" stroke="#262a33" stroke-opacity="0.52" stroke-width="1.0"/>
<line x1="600.5" y1="317.5" x2="600.5" y2="330.5" stroke="#a8a8a8" stroke-width="1"/>
<line x1="597.18" y1="317.5" x2="603.58" y2="317.5" stroke="#808080" stroke-width="1"/>
<line x1="568.5" y1="418.5" x2="568.5" y2="421.1" stroke="#262626" stroke-width="1"/>
<text x="566.89" y="432.7" font-size="11.5" text-anchor="middle" fill="#2a2a2a" class="t">Jejunum</text>
<rect x="619.5" y="343.5" width="12" height="75" fill="#7ba4cc"/>
<path d="M619.5 418.5V343.5H631.5V418.5" fill="none" stroke="#262a33" stroke-opacity="0.52" stroke-width="1.0"/>
<line x1="625.5" y1="334.5" x2="625.5" y2="343.5" stroke="#a8a8a8" stroke-width="1"/>
<line x1="622.37" y1="334.5" x2="628.77" y2="334.5" stroke="#808080" stroke-width="1"/>
<rect x="631.5" y="322.5" width="13" height="96" fill="#bed4e6"/>
<path d="M631.5 418.5V322.5H644.5V418.5" fill="none" stroke="#262a33" stroke-opacity="0.52" stroke-width="1.0"/>
<line x1="638.5" y1="311.5" x2="638.5" y2="322.5" stroke="#a8a8a8" stroke-width="1"/>
<line x1="634.97" y1="311.5" x2="641.37" y2="311.5" stroke="#808080" stroke-width="1"/>
<rect x="644.5" y="336.5" width="13" height="82" fill="#7db2c0"/>
<path d="M644.5 418.5V336.5H657.5V418.5" fill="none" stroke="#262a33" stroke-opacity="0.52" stroke-width="1.0"/>
<line x1="650.5" y1="323.5" x2="650.5" y2="336.5" stroke="#a8a8a8" stroke-width="1"/>
<line x1="647.56" y1="323.5" x2="653.96" y2="323.5" stroke="#808080" stroke-width="1"/>
<rect x="657.5" y="333.5" width="12" height="85" fill="#5e8696"/>
<path d="M657.5 418.5V333.5H669.5V418.5" fill="none" stroke="#262a33" stroke-opacity="0.52" stroke-width="1.0"/>
<line x1="663.5" y1="321.5" x2="663.5" y2="333.5" stroke="#a8a8a8" stroke-width="1"/>
<line x1="660.16" y1="321.5" x2="666.56" y2="321.5" stroke="#808080" stroke-width="1"/>
<rect x="669.5" y="339.5" width="13" height="79" fill="#e0c486"/>
<path d="M669.5 418.5V339.5H682.5V418.5" fill="none" stroke="#262a33" stroke-opacity="0.52" stroke-width="1.0"/>
<line x1="675.5" y1="334.5" x2="675.5" y2="339.5" stroke="#a8a8a8" stroke-width="1"/>
<line x1="672.76" y1="334.5" x2="679.16" y2="334.5" stroke="#808080" stroke-width="1"/>
<rect x="682.5" y="329.5" width="12" height="89" fill="#c27a92"/>
<path d="M682.5 418.5V329.5H694.5V418.5" fill="none" stroke="#262a33" stroke-opacity="0.52" stroke-width="1.0"/>
<line x1="688.5" y1="316.5" x2="688.5" y2="329.5" stroke="#a8a8a8" stroke-width="1"/>
<line x1="685.35" y1="316.5" x2="691.75" y2="316.5" stroke="#808080" stroke-width="1"/>
<line x1="657.5" y1="418.5" x2="657.5" y2="421.1" stroke="#262626" stroke-width="1"/>
<text x="656.56" y="432.7" font-size="11.5" text-anchor="middle" fill="#2a2a2a" class="t">Ileum</text>
<line x1="524.6" y1="267.3" x2="524.6" y2="419.1" stroke="#262626" stroke-width="1.2"/>
<line x1="524" y1="418.5" x2="701.7" y2="418.5" stroke="#262626" stroke-width="1.2"/>
<line x1="521.8" y1="418.5" x2="524.6" y2="418.5" stroke="#262626" stroke-width="1.1"/>
<text x="520.3" y="422.41" font-size="11.5" text-anchor="end" fill="#2a2a2a">0.0</text>
<line x1="521.8" y1="380.7" x2="524.6" y2="380.7" stroke="#262626" stroke-width="1.1"/>
<text x="520.3" y="384.61" font-size="11.5" text-anchor="end" fill="#2a2a2a">0.5</text>
<line x1="521.8" y1="342.9" x2="524.6" y2="342.9" stroke="#262626" stroke-width="1.1"/>
<text x="520.3" y="346.81" font-size="11.5" text-anchor="end" fill="#2a2a2a">1.0</text>
<line x1="521.8" y1="305.1" x2="524.6" y2="305.1" stroke="#262626" stroke-width="1.1"/>
<text x="520.3" y="309.01" font-size="11.5" text-anchor="end" fill="#2a2a2a">1.5</text>
<line x1="521.8" y1="267.3" x2="524.6" y2="267.3" stroke="#262626" stroke-width="1.1"/>
<text x="520.3" y="271.21" font-size="11.5" text-anchor="end" fill="#2a2a2a">2.0</text>
<text transform="translate(497.9 342.9) rotate(-90)" font-size="11.5" text-anchor="middle" fill="#2a2a2a">Relative mRNA levels</text>
<rect x="717.5" y="273.5" width="18" height="5" fill="#7ba4cc" stroke="#262a33" stroke-opacity="0.52" stroke-width="1"/>
<text x="745.8" y="279.5" font-size="10.8" fill="#2a2a2a">0</text>
<rect x="717.5" y="284.5" width="18" height="5" fill="#bed4e6" stroke="#262a33" stroke-opacity="0.52" stroke-width="1"/>
<text x="745.8" y="290.5" font-size="10.8" fill="#2a2a2a">1</text>
<rect x="717.5" y="295.5" width="18" height="5" fill="#7db2c0" stroke="#262a33" stroke-opacity="0.52" stroke-width="1"/>
<text x="745.8" y="301.4" font-size="10.8" fill="#2a2a2a">2</text>
<rect x="717.5" y="307.5" width="18" height="5" fill="#5e8696" stroke="#262a33" stroke-opacity="0.52" stroke-width="1"/>
<text x="745.8" y="313" font-size="10.8" fill="#2a2a2a">4</text>
<rect x="717.5" y="318.5" width="18" height="5" fill="#e0c486" stroke="#262a33" stroke-opacity="0.52" stroke-width="1"/>
<text x="745.8" y="324.7" font-size="10.8" fill="#2a2a2a">8</text>
<rect x="717.5" y="329.5" width="18" height="5" fill="#c27a92" stroke="#262a33" stroke-opacity="0.52" stroke-width="1"/>
<text x="745.8" y="335.2" font-size="10.8" fill="#2a2a2a">16</text>
</svg>
</body></html>
